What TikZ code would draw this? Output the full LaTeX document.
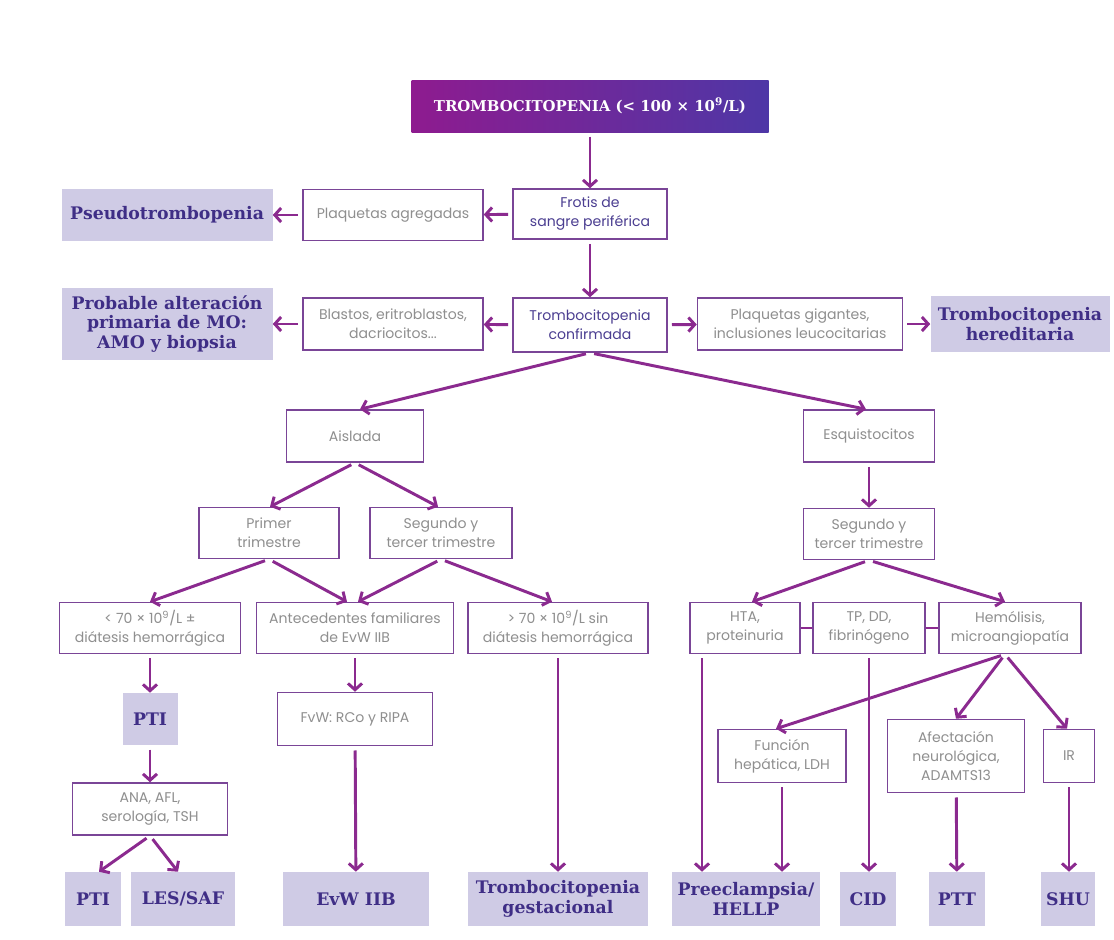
\documentclass[tikz,border=0pt]{standalone}
\usepackage{fontspec}
\setmainfont{Poppins}
\newfontfamily\slabfont{DejaVu Serif}
\usetikzlibrary{arrows.meta}
\definecolor{boxline}{HTML}{7A4597}
\definecolor{arrowcol}{HTML}{8B2A8F}
\definecolor{resfill}{HTML}{CFCBE5}
\definecolor{restext}{HTML}{3F2E86}
\definecolor{txtgray}{HTML}{8F8F8F}
\definecolor{keytext}{HTML}{4B3E91}
\definecolor{titleleft}{HTML}{8E1B8F}
\definecolor{titleright}{HTML}{4E37A6}
\newlength{\px}
\setlength{\px}{0.025cm}

\begin{document}
\begin{tikzpicture}[
      x=\px, y=-\px,
      sz/.style 2 args={minimum width=#1\px, minimum height=#2\px},
      box/.style={draw=boxline, line width=1.1pt, fill=white, text=txtgray, align=center, inner sep=1pt, font=\fontsize{10}{13.5}\selectfont},
      key/.style={box, text=keytext},
      result/.style={fill=resfill, text=restext, align=center, inner sep=1pt, font=\slabfont\bfseries\fontsize{12.3}{14.2}\selectfont},
      root/.style={left color=titleleft, right color=titleright, text=white, font=\slabfont\bfseries\fontsize{10.6}{12}\selectfont},
      arr/.style={draw=arrowcol, line width=2.1pt, shorten <=3pt, -{Straight Barb[length=4.5pt,width=10pt]}},
      link/.style={draw=arrowcol, line width=2.1pt}
    ]

    \useasboundingbox (0,0) rectangle (1114,940);
    \fill[white] (0,0) rectangle (1114,940);

    \node[root, sz={357}{52}] (top) at (590,106) {TROMBOCITOPENIA (< 100 × 10\textsuperscript{9}/L)};

    \node[key, sz={154}{50}] (frotis) at (590,214) {Frotis de\\sangre periférica};
    \node[box, sz={180}{51}] (plaqag) at (393,215) {Plaquetas agregadas};
    \node[result, sz={211}{52}] (pseudo) at (167,215) {Pseudotrombopenia};

    \node[key, sz={154}{54}] (tcconf) at (590,325) {Trombocitopenia\\confirmada};
    \node[box, sz={180}{52}] (blastos) at (393,324) {Blastos, eritroblastos,\\dacriocitos...};
    \node[result, sz={211}{72}] (probable) at (167,324) {Probable alteración\\primaria de MO:\\AMO y biopsia};
    \node[box, sz={205}{52}] (plaqgig) at (800,324) {Plaquetas gigantes,\\inclusiones leucocitarias};
    \node[result, sz={179}{56}] (hered) at (1020,324) {Trombocitopenia\\hereditaria};

    \node[box, sz={137}{52}] (aislada) at (355,436) {Aislada};
    \node[box, sz={131}{52}] (esquis) at (869,436) {Esquistocitos};

    \node[box, sz={140}{51}] (primer) at (269,533) {Primer\\trimestre};
    \node[box, sz={142}{51}] (segizq) at (441,533) {Segundo y\\tercer trimestre};
    \node[box, sz={131}{51}] (segder) at (869,534) {Segundo y\\tercer trimestre};

    \node[box, sz={181}{51}] (menor) at (150,628) {< 70 × 10\textsuperscript{9}/L ±\\diátesis hemorrágica};
    \node[box, sz={197}{51}] (antec) at (355,628) {Antecedentes familiares\\de EvW IIB};
    \node[box, sz={180}{51}] (mayor) at (558,628) {> 70 × 10\textsuperscript{9}/L sin\\diátesis hemorrágica};
    \node[box, sz={110}{51}] (hta) at (745,628) {HTA,\\proteinuria};
    \node[box, sz={112}{51}] (tp) at (869,628) {TP, DD,\\fibrinógeno};
    \node[box, sz={142}{51}] (hemo) at (1010,628) {Hemólisis,\\microangiopatía};

    \node[result, sz={55}{52}] (ptia) at (150,719) {PTI};
    \node[box, sz={155}{53}] (fvw) at (355,719) {FvW: RCo y RIPA};
    \node[box, sz={155}{52}] (ana) at (150,809) {ANA, AFL,\\serología, TSH};
    \node[box, sz={128}{53}] (funcion) at (782,756) {Función\\hepática, LDH};
    \node[box, sz={137}{73}] (afect) at (956,756) {Afectación\\neurológica,\\ADAMTS13};
    \node[box, sz={51}{53}] (ir) at (1069,756) {IR};

    \node[result, sz={56}{54}] (ptib) at (93,899) {PTI};
    \node[result, sz={104}{54}] (les) at (183,899) {LES/SAF};
    \node[result, sz={146}{54}] (evw) at (356,899) {EvW IIB};
    \node[result, sz={180}{54}] (gest) at (558,899) {Trombocitopenia\\gestacional};
    \node[result, sz={148}{54}] (pre) at (746,899) {Preeclampsia/\\HELLP};
    \node[result, sz={56}{54}] (cid) at (868,899) {CID};
    \node[result, sz={56}{54}] (ptt) at (957,899) {PTT};
    \node[result, sz={54}{54}] (shu) at (1068,899) {SHU};

    \draw[arr] (top) -- (frotis);
    \draw[arr] (frotis) -- (plaqag);
    \draw[arr] (plaqag) -- (pseudo);
    \draw[arr] (frotis) -- (tcconf);
    \draw[arr] (tcconf) -- (blastos);
    \draw[arr] (blastos) -- (probable);
    \draw[arr] (tcconf) -- (plaqgig);
    \draw[arr] (plaqgig) -- (hered);

    \draw[arr] (tcconf.south) -- ([xshift=5\px]aislada.north);
    \draw[arr] (tcconf.south) -- ([xshift=-3\px]esquis.north);
    \draw[arr] (aislada.south) -- ([xshift=1\px]primer.north);
    \draw[arr] (aislada.south) -- ([xshift=-3\px]segizq.north);
    \draw[arr] (esquis) -- (segder);

    \draw[arr] (primer.south) -- (menor.north);
    \draw[arr] (primer.south) -- ([xshift=-8\px]antec.north);
    \draw[arr] (segizq.south) -- ([xshift=3\px]antec.north);
    \draw[arr] (segizq.south) -- ([xshift=-6\px]mayor.north);
    \draw[arr] (segder.south) -- ([xshift=7\px]hta.north);
    \draw[arr] (segder.south) -- ([xshift=-5\px]hemo.north);
    \draw[link] (hta) -- (tp);
    \draw[link] (tp) -- (hemo);

    \draw[arr] (menor) -- (ptia);
    \draw[arr] (ptia) -- (ana);
    \draw[arr] (ana.south) -- ([xshift=6\px]ptib.north);
    \draw[arr] (ana.south) -- ([xshift=-5\px]les.north);
    \draw[arr] (antec) -- (fvw);
    \draw[arr] (fvw) -- (evw);
    \draw[arr] (mayor) -- (gest);

    \draw[arr] ([xshift=-43\px]hta.south) -- ([xshift=-44\px]pre.north);
    \draw[arr] (tp.south) -- ([xshift=1\px]cid.north);
    \draw[arr] ([xshift=-5\px]hemo.south) -- ([xshift=-6\px]funcion.north);
    \draw[arr] ([xshift=-5\px]hemo.south) -- (afect.north);
    \draw[arr] ([xshift=-5\px]hemo.south) -- ([xshift=-2\px]ir.north);
    \draw[arr] (funcion.south) -- ([xshift=36\px]pre.north);
    \draw[arr] (afect) -- (ptt);
    \draw[arr] (ir.south) -- ([xshift=1\px]shu.north);

\end{tikzpicture}
\end{document}
